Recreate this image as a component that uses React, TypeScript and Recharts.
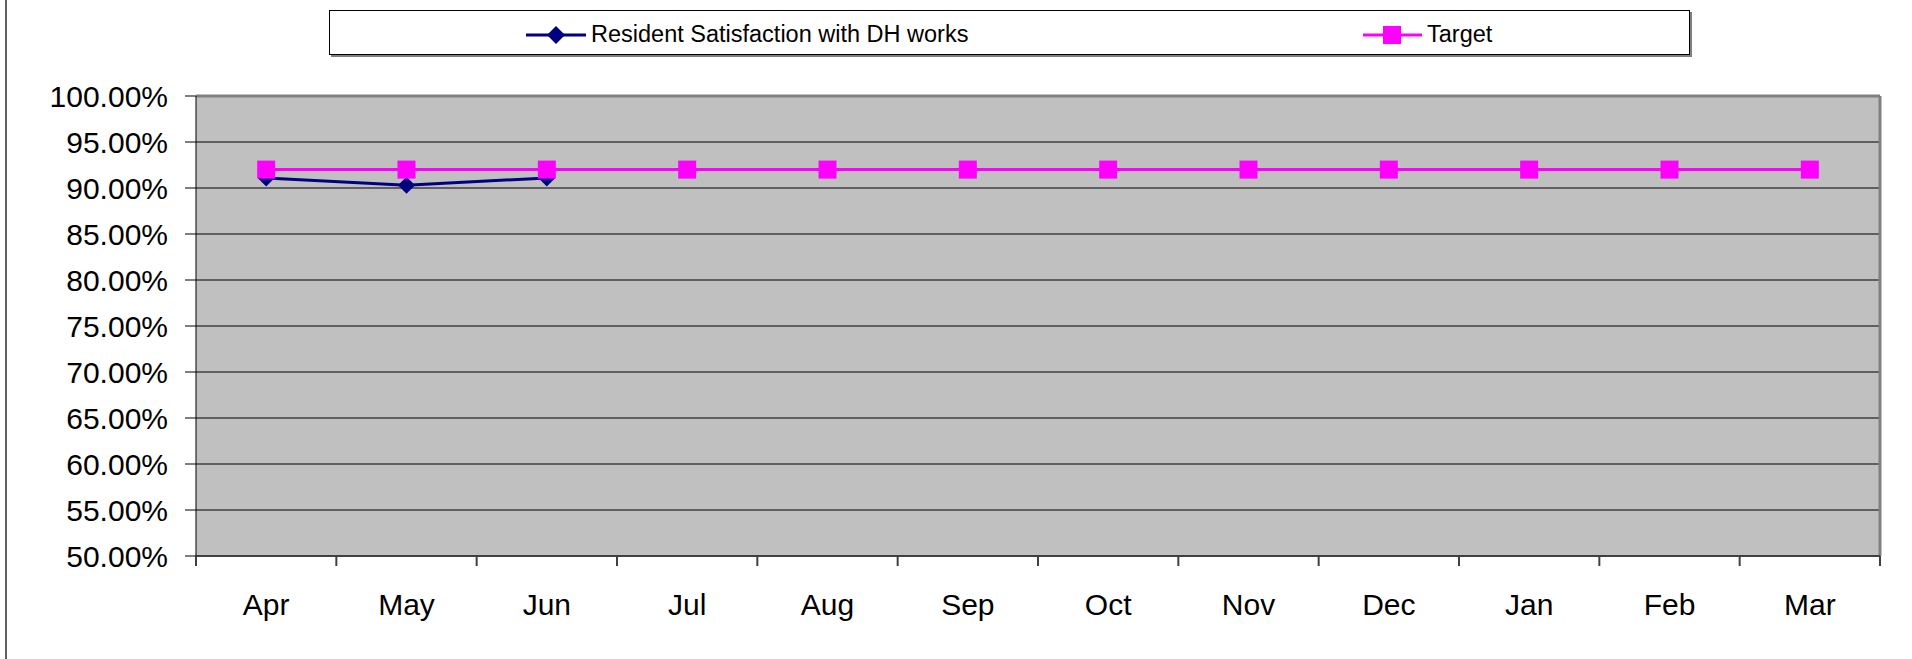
import { LineChart, Line, XAxis, YAxis, CartesianGrid, ReferenceLine } from 'recharts'

const months = ['Apr', 'May', 'Jun', 'Jul', 'Aug', 'Sep', 'Oct', 'Nov', 'Dec', 'Jan', 'Feb', 'Mar']
const satisfaction = [0.911, 0.903, 0.911, null, null, null, null, null, null, null, null, null]
const target = [0.92, 0.92, 0.92, 0.92, 0.92, 0.92, 0.92, 0.92, 0.92, 0.92, 0.92, 0.92]
const yTicks = [0.5, 0.55, 0.6, 0.65, 0.7, 0.75, 0.8, 0.85, 0.9, 0.95, 1.0]

const data = months.map((m, i) => ({
  month: m,
  pos: i + 0.5,
  satisfaction: satisfaction[i],
  target: target[i],
}))

const labelTicks = months.map((_, i) => i + 0.5)
const boundaryTicks = [...months.map((_, i) => i), months.length]

const FONT = '"Liberation Sans", Arial, sans-serif'
const NAVY = '#000080'
const PINK = '#FF00FF'

const pct = (v: number) => `${(v * 100).toFixed(2)}%`

function Diamond({ cx, cy }: { cx?: number; cy?: number }) {
  if (cx == null || cy == null) return null
  const r = 8.5
  return <polygon points={`${cx},${cy - r} ${cx + r},${cy} ${cx},${cy + r} ${cx - r},${cy}`} fill={NAVY} />
}

function Square({ cx, cy }: { cx?: number; cy?: number }) {
  if (cx == null || cy == null) return null
  return <rect x={cx - 9} y={cy - 9} width={18} height={18} fill={PINK} />
}

function LegendBox() {
  return (
    <div
      style={{
        position: 'absolute',
        left: 329,
        top: 10,
        width: 1361,
        height: 45,
        boxSizing: 'border-box',
        border: '1px solid #000',
        background: '#fff',
        boxShadow: '2px 2px 0 #808080',
        fontFamily: FONT,
        fontSize: 23.5,
        color: '#000',
      }}
    >
      <div style={{ position: 'absolute', left: 196, top: 2, height: 43, display: 'flex', alignItems: 'center' }}>
        <svg width={60} height={20}>
          <line x1={0} y1={10} x2={60} y2={10} stroke={NAVY} strokeWidth={3} />
          <polygon points="30,1 39,10 30,19 21,10" fill={NAVY} />
        </svg>
        <span style={{ marginLeft: 5 }}>Resident Satisfaction with DH works</span>
      </div>
      <div style={{ position: 'absolute', left: 1033, top: 2, height: 43, display: 'flex', alignItems: 'center' }}>
        <svg width={59} height={20}>
          <line x1={0} y1={10} x2={59} y2={10} stroke={PINK} strokeWidth={3} />
          <rect x={20} y={1} width={18} height={18} fill={PINK} />
        </svg>
        <span style={{ marginLeft: 5 }}>Target</span>
      </div>
    </div>
  )
}

export default function App() {
  return (
    <div style={{ position: 'absolute', left: 0, top: 0, width: 1912, height: 659, background: '#fff' }}>
      <div style={{ position: 'absolute', left: 5, top: 0, width: 2, height: 659, background: '#606060' }} />
      <LegendBox />
      <div style={{ position: 'absolute', left: 0, top: 0 }}>
        <LineChart
          width={1912}
          height={659}
          data={data}
          margin={{ top: 96, right: 32, bottom: 0, left: 0 }}
        >
          <CartesianGrid
            horizontal
            vertical={false}
            fill="#C0C0C0"
            fillOpacity={1}
            stroke="#000"
            strokeWidth={1}
            horizontalValues={yTicks}
          />
          <XAxis
            xAxisId="bounds"
            type="number"
            dataKey="pos"
            domain={[0, months.length]}
            ticks={boundaryTicks}
            tickFormatter={() => ''}
            tickSize={10}
            height={1}
            interval={0}
            stroke="#404040"
            strokeWidth={2}
            tickLine={{ stroke: '#404040', strokeWidth: 2 }}
          />
          <XAxis
            xAxisId="labels"
            type="number"
            dataKey="pos"
            domain={[0, months.length]}
            ticks={labelTicks}
            tickFormatter={(v: number) => months[Math.floor(v)]}
            tickLine={false}
            axisLine={false}
            tickSize={0}
            tickMargin={37}
            interval={0}
            height={102}
            tick={{ fontSize: 30, fontFamily: FONT, fill: '#000' }}
          />
          <YAxis
            type="number"
            domain={[0.5, 1]}
            ticks={yTicks}
            interval={0}
            tickFormatter={pct}
            width={196}
            tickSize={11}
            tickMargin={17}
            stroke="#000"
            tick={{ fontSize: 30, fontFamily: FONT, fill: '#000' }}
          />
          <ReferenceLine xAxisId="bounds" y={1} stroke="#808080" strokeWidth={3} />
          <ReferenceLine xAxisId="bounds" x={months.length} stroke="#808080" strokeWidth={3} />
          <Line
            xAxisId="bounds"
            type="linear"
            dataKey="satisfaction"
            stroke={NAVY}
            strokeWidth={3}
            dot={<Diamond />}
            activeDot={false}
            connectNulls={false}
            isAnimationActive={false}
          />
          <Line
            xAxisId="bounds"
            type="linear"
            dataKey="target"
            stroke={PINK}
            strokeWidth={3}
            dot={<Square />}
            activeDot={false}
            isAnimationActive={false}
          />
        </LineChart>
      </div>
    </div>
  )
}
